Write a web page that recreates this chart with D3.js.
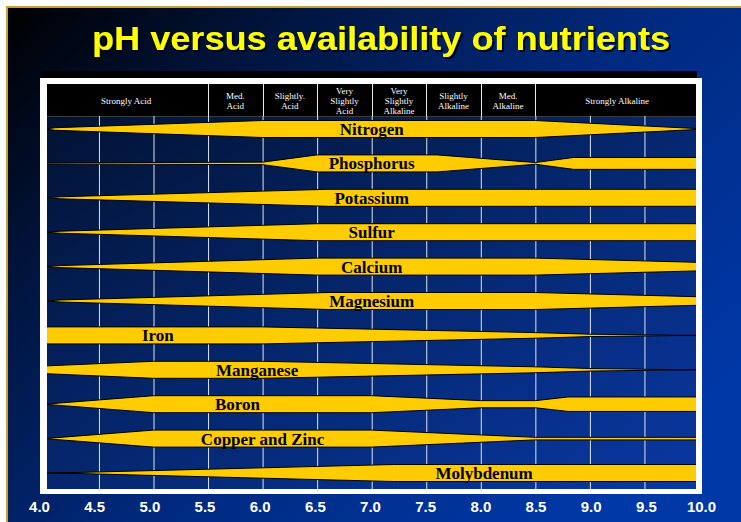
<!DOCTYPE html>
<html>
<head>
<meta charset="utf-8">
<script src="https://cdnjs.cloudflare.com/ajax/libs/d3/7.8.5/d3.min.js"></script>
<style>
  body { margin: 0; background: #fff; }
  svg { display: block; }
</style>
</head>
<body>
<svg id="chart" width="741" height="522"></svg>
<script>
// pH zones along the top (| = line break)
var zones = ["Strongly Acid", "Med.|Acid", "Slightly.|Acid", "Very|Slightly|Acid",
             "Very|Slightly|Alkaline", "Slightly|Alkaline", "Med.|Alkaline", "Strongly Alkaline"];
var zoneBreaks = [4.0, 5.5, 6.0, 6.5, 7.0, 7.5, 8.0, 8.5, 10.0];
var phTicks = [4.0, 4.5, 5.0, 5.5, 6.0, 6.5, 7.0, 7.5, 8.0, 8.5, 9.0, 9.5, 10.0];

var nutrients = ["Nitrogen", "Phosphorus", "Potassium", "Sulfur", "Calcium", "Magnesium",
                 "Iron", "Manganese", "Boron", "Copper and Zinc", "Molybdenum"];

// availability profile per nutrient: [pH, relative band width]
var nitrogen   = [[4.0, 0], [4.1, 0.15], [6.0, 1], [8.5, 1], [10.0, 0.04]];
var phosphorus = [[4.0, 0.06], [6.0, 0.15], [6.5, 1], [7.6, 1], [8.5, 0.1], [8.85, 0.7], [10.0, 0.7]];
var potassium  = [[4.0, 0], [4.15, 0.12], [6.6, 1], [10.0, 1]];
var sulfur     = [[4.0, 0], [4.15, 0.12], [6.5, 1], [10.0, 1]];
var calcium    = [[4.0, 0], [4.15, 0.12], [6.5, 1], [8.5, 1], [10.0, 0.5]];
var magnesium  = [[4.0, 0], [4.15, 0.12], [6.6, 1], [8.5, 1], [10.0, 0.5]];
var iron       = [[4.0, 1], [6.0, 1], [8.5, 0.33], [9.0, 0.14], [9.8, 0.02], [10.0, 0.02]];
var manganese  = [[4.0, 0.45], [5.0, 1], [6.0, 1], [8.5, 0.35], [9.0, 0.15], [9.8, 0.02], [10.0, 0.02]];
var boron      = [[4.0, 0], [5.0, 1], [7.0, 1], [8.0, 0.42], [8.5, 0.42], [8.8, 0.85], [10.0, 0.85]];
var copperZinc = [[4.0, 0], [5.0, 1], [7.0, 1], [8.5, 0.15], [10.0, 0.15]];
var molybdenum = [[4.0, 0.03], [4.3, 0.06], [7.2, 1], [10.0, 1]];

var profiles = [nitrogen, phosphorus, potassium, sulfur, calcium, magnesium,
                iron, manganese, boron, copperZinc, molybdenum];
// pH where each name is written
var labelAt = [7.0, 7.0, 7.0, 7.0, 7.0, 7.0, 5.04, 5.95, 5.77, 6.0, 8.03];

var svg = d3.select("#chart"),
    plot = {left: 47, right: 696, top: 84, head: 116, bottom: 489};

var x = d3.scaleLinear().domain([4, 10]).range([44.4, 699]);
var xLab = d3.scaleLinear().domain([4, 10]).range([39, 701]);
var y = d3.scalePoint().domain(nutrients).range([129, 473]);
var w = d3.scaleLinear().domain([0, 1]).range([0, 8.5]);

var defs = svg.append("defs");
function grad(id, x2, y2, stops) {
  var g = defs.append("linearGradient").attr("id", id)
      .attr("x1", 0).attr("y1", 0).attr("x2", x2).attr("y2", y2);
  stops.forEach(function(s) {
    g.append("stop").attr("offset", s[0]).attr("stop-color", s[1]);
  });
}
grad("slide", 1, 0.7, [[0, "#000000"], [0.25, "#00143c"], [0.6, "#002a80"], [1, "#0038a8"]]);
grad("plotbg", 1, 1, [[0, "#021232"], [0.5, "#05276f"], [1, "#0a38a2"]]);

var shadow = defs.append("filter").attr("id", "shadow")
    .attr("x", "-5%").attr("y", "-20%").attr("width", "110%").attr("height", "140%");
shadow.append("feDropShadow")
    .attr("dx", 2).attr("dy", 2).attr("stdDeviation", 0.6)
    .attr("flood-color", "#000").attr("flood-opacity", 0.9);

defs.append("clipPath").attr("id", "clip")
  .append("rect")
    .attr("x", plot.left).attr("y", plot.head)
    .attr("width", plot.right - plot.left).attr("height", plot.bottom - plot.head);

// slide background
svg.append("rect").attr("width", 741).attr("height", 522).attr("fill", "#fff");
svg.append("rect")
    .attr("x", 7).attr("y", 7).attr("width", 740).attr("height", 520)
    .attr("fill", "url(#slide)")
    .attr("stroke", "#c9a030").attr("stroke-width", 2);

// title
svg.append("text")
    .attr("x", 381).attr("y", 50)
    .attr("text-anchor", "middle")
    .attr("textLength", 578).attr("lengthAdjust", "spacingAndGlyphs")
    .style("font", "bold 34px 'Liberation Sans', Arial, sans-serif")
    .attr("fill", "#ffff00")
    .attr("filter", "url(#shadow)")
    .text("pH versus availability of nutrients");

// white panel + dark strip above it
svg.append("rect").attr("x", 43).attr("y", 71).attr("width", 654).attr("height", 7).attr("fill", "#000");
svg.append("rect").attr("x", 40).attr("y", 78).attr("width", 662).attr("height", 416).attr("fill", "#fff");

// header
svg.append("rect")
    .attr("x", plot.left).attr("y", plot.top)
    .attr("width", plot.right - plot.left).attr("height", plot.head - plot.top)
    .attr("fill", "#000");
svg.append("rect")
    .attr("x", plot.left).attr("y", plot.head)
    .attr("width", plot.right - plot.left).attr("height", plot.bottom - plot.head)
    .attr("fill", "url(#plotbg)");
svg.append("line")
    .attr("x1", plot.left).attr("x2", plot.right)
    .attr("y1", plot.head + 0.5).attr("y2", plot.head + 0.5)
    .attr("stroke", "#3a3a3a");

svg.append("g").selectAll("line")
    .data(zoneBreaks.slice(1, -1))
  .enter().append("line")
    .attr("x1", function(d) { return Math.round(x(d)) + 0.5; })
    .attr("x2", function(d) { return Math.round(x(d)) + 0.5; })
    .attr("y1", plot.top).attr("y2", plot.head)
    .attr("stroke", "#e8e8e8");

var zoneText = svg.append("g").selectAll("text")
    .data(zones)
  .enter().append("text")
    .attr("text-anchor", "middle")
    .attr("fill", "#fff")
    .style("font", "9px 'Liberation Serif', 'Times New Roman', serif");
zoneText.each(function(d, i) {
  var lines = d.split("|"),
      cx = (x(zoneBreaks[i]) + x(zoneBreaks[i + 1])) / 2;
  d3.select(this).selectAll("tspan")
      .data(lines)
    .enter().append("tspan")
      .attr("x", cx)
      .attr("y", function(l, j) { return 104 + (j - (lines.length - 1) / 2) * 10; })
      .text(function(l) { return l; });
});

// vertical grid
var grid = svg.append("g")
    .attr("transform", "translate(0," + plot.bottom + ")")
    .call(d3.axisBottom(x)
        .tickValues(phTicks.slice(1, -1))
        .tickSize(-(plot.bottom - plot.head))
        .tickFormat(""));
grid.select(".domain").remove();
grid.selectAll("line").attr("stroke", "#dde3ee");

// nutrient bands
var band = d3.area()
    .x(function(d) { return x(d[0]); })
    .y0(function(d) { return -w(d[1]); })
    .y1(function(d) { return w(d[1]); });

var rows = svg.append("g").attr("clip-path", "url(#clip)")
    .selectAll("g")
    .data(nutrients)
  .enter().append("g")
    .attr("transform", function(d) { return "translate(0," + y(d) + ")"; });

rows.append("path")
    .attr("d", function(d, i) { return band(profiles[i]); })
    .attr("fill", "#ffcc00")
    .attr("stroke", "#000")
    .attr("stroke-width", 1)
    .attr("stroke-linejoin", "round");

rows.append("text")
    .attr("x", function(d, i) { return x(labelAt[i]); })
    .attr("y", 6)
    .attr("text-anchor", "middle")
    .attr("fill", "#000")
    .style("font", "bold 17px 'Liberation Serif', 'Times New Roman', serif")
    .text(function(d) { return d; });

// pH axis labels
var axis = svg.append("g")
    .attr("transform", "translate(0,501)")
    .call(d3.axisBottom(xLab)
        .tickValues(phTicks)
        .tickSize(0)
        .tickPadding(0)
        .tickFormat(d3.format(".1f")));
axis.select(".domain").remove();
axis.selectAll("text")
    .attr("fill", "#fff")
    .style("font", "bold 15px 'Liberation Sans', Arial, sans-serif");
</script>
</body>
</html>
